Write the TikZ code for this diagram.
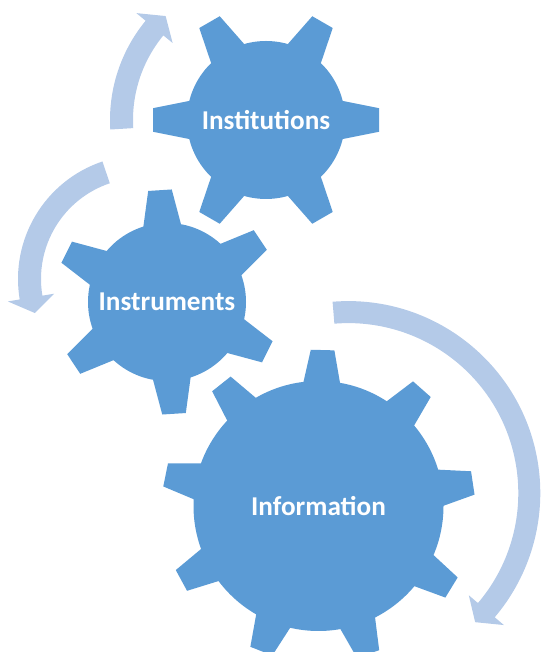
\documentclass[tikz,border=0pt]{standalone}
\usepackage{fontspec}
\setmainfont{Carlito}
\usepackage{xcolor}
\definecolor{GearBlue}{RGB}{91,155,213}
\definecolor{ArrowBlue}{RGB}{180,202,232}
\definecolor{White}{RGB}{255,255,255}
\usepackage{tikz}

% gear: center, body radius, tip radius, teeth, first tooth angle
\newcommand{\gearWheel}[5]{%
	\fill[GearBlue] (#1) circle[radius=#2];
	\foreach \k in {1,...,#4}
		\fill[GearBlue, shift={(#1)}, rotate={#5+360/#4*\k}]
			({#2-12},{-11.8-0.2*(#3-#2+12)}) -- (#3,-11.8) -- (#3,11.8) -- ({#2-12},{11.8+0.2*(#3-#2+12)}) -- cycle;
}

% turning arrow: center, inner radius, outer radius, start angle, head angle, tip angle
\newcommand{\turnArrow}[6]{%
	\fill[ArrowBlue, shift={(#1)}]
		(#4:#3) arc[start angle=#4, end angle=#5, radius=#3]
		-- (#5:{#3+12}) -- (#6:{(#2+#3)/2}) -- (#5:{#2-12}) -- (#5:#2)
		arc[start angle=#5, end angle=#4, radius=#2] -- cycle;
}

\begin{document}
\begin{tikzpicture}[x=1pt, y=1pt,
		gearlabel/.style={align=center, text=White, font=\bfseries\fontsize{27.2}{31}\selectfont}]
		
		\useasboundingbox (0,0) rectangle (541,652);
		
		% Centers
		\coordinate (gearInst) at (266,532);
		\coordinate (gearInstr) at (167,350);
		\coordinate (gearInfo) at (318.5,146);
		\coordinate (turnInst) at (266,532);
		\coordinate (turnInstr) at (142,373);
		\coordinate (turnInfo) at (348.3,158.9);
		
		% Arrows
		\turnArrow{turnInst}{133}{156}{183.5}{140.5}{134}
		\turnArrow{turnInstr}{101}{124}{108.6}{189.5}{197.6}
		\turnArrow{turnInfo}{170}{192}{94.7}{-40.3}{-45.5}
		
		% Gears
		\gearWheel{gearInst}{79}{113}{6}{0}
		\gearWheel{gearInstr}{79}{112}{6}{33.6}
		\gearWheel{gearInfo}{125}{156}{9}{8.5}
		
		% Text
		\node[gearlabel] (institutions) at (gearInst) {Institutions};
		\node[gearlabel] (instruments) at (gearInstr) {Instruments};
		\node[gearlabel] (information) at (gearInfo) {Information};
		
	\end{tikzpicture}
\end{document}
